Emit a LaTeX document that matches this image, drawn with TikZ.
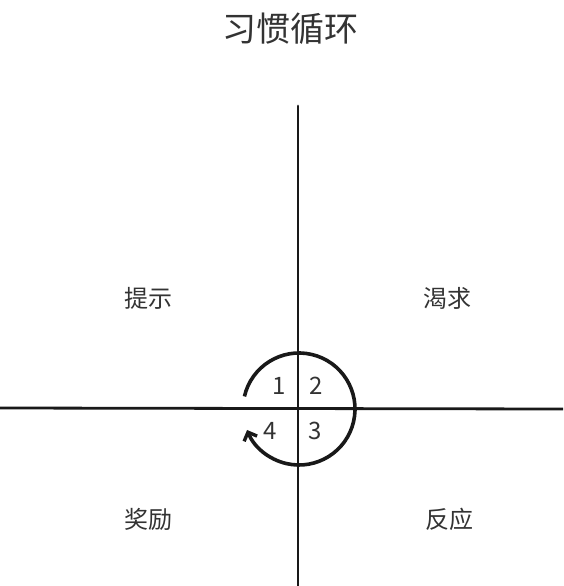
\documentclass[tikz,border=0pt]{standalone}
\usepackage{fontspec}
\newfontfamily\cjk{Noto Sans CJK SC}
\usetikzlibrary{arrows.meta}
\begin{document}
\begin{tikzpicture}[x=1pt,y=1pt,
  axis/.style={line width=2.8pt,line cap=round,black!90},
  quad/.style={font=\cjk\fontsize{24}{28}\selectfont,text=black!80,inner sep=0pt},
  num/.style={font=\cjk\fontsize{24}{28}\selectfont,text=black!80,inner sep=0pt},
  loop/.style={line width=3.6pt,black!90,-{Straight Barb[length=7pt,width=14pt,line width=3.4pt]}}]
\useasboundingbox (0,0) rectangle (563,-586);
\fill[white] (0,0) rectangle (563,-586);
\node[font=\cjk\fontsize{34}{38}\selectfont,text=black!80,inner sep=0pt] (title) at (290,-29) {习惯循环};
\coordinate (top) at (298,-106);
\coordinate (bottom) at (298,-586);
\coordinate (left) at (0,-408);
\coordinate (right) at (563,-409);
\coordinate (c) at (299,-409);
\draw[axis] (top) -- (bottom);
\draw[axis,line cap=butt] (left) -- (right);
\node[quad] (cue) at (148,-298) {提示};
\node[quad] (craving) at (447,-298) {渴求};
\node[quad] (reward) at (148,-519) {奖励};
\node[quad] (response) at (449,-519) {反应};
\node[num] (n1) at (279,-386) {1};
\node[num] (n2) at (316,-386) {2};
\node[num] (n4) at (270,-431) {4};
\node[num] (n3) at (315,-431) {3};
\draw[loop] (c) ++(167:56) arc[start angle=167,end angle=-158,radius=56];
\end{tikzpicture}
\end{document}
